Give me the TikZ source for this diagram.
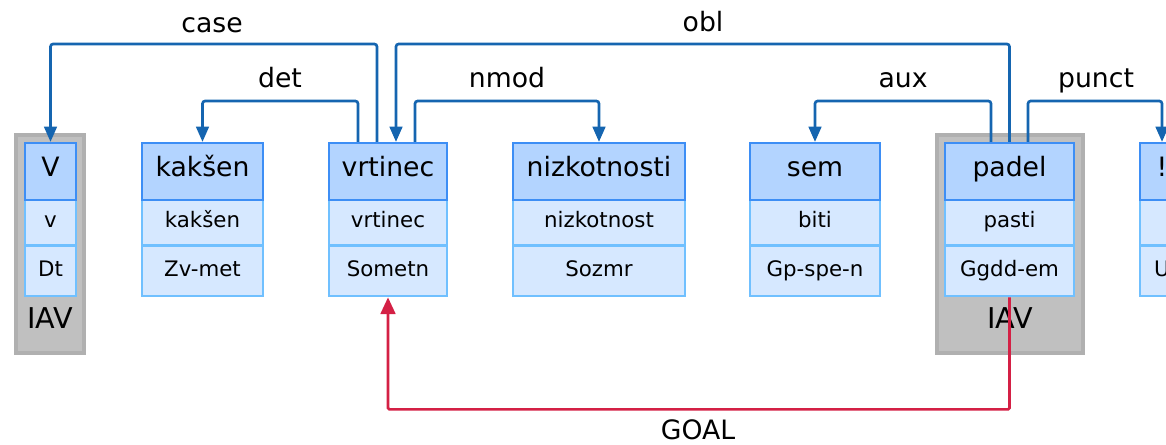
\documentclass[tikz,border=0pt]{standalone}
\usepackage{fontspec}
\setmainfont{DejaVu Sans}
\usetikzlibrary{arrows.meta,calc}

\definecolor{formfill}{HTML}{B3D4FF}
\definecolor{formline}{HTML}{3D8EF5}
\definecolor{cellfill}{HTML}{D6E8FF}
\definecolor{cellline}{HTML}{70C0FF}
\definecolor{iavfill}{HTML}{C0C0C0}
\definecolor{iavline}{HTML}{B0B0B0}
\definecolor{deplink}{HTML}{1565B0}
\definecolor{goallink}{HTML}{D42045}

% one token column: form (top), lemma, tag
% #1 name, #2 centre x, #3 width (px), #4 form, #5 lemma, #6 tag
\newcommand\wordbox[6]{%
  \node[lemmacell, minimum width=#3*0.75pt] (#1-l) at (#2,222.75) {#5};
  \node[tagcell,   minimum width=#3*0.75pt] (#1-t) at (#2,271)    {#6};
  \node[formcell,  minimum width=#3*0.75pt] (#1)   at (#2,171.5)  {#4};
}

\begin{document}
\begin{tikzpicture}[x=0.75pt,y=-0.75pt,
  cell/.style={draw, line width=1.6pt, inner sep=0pt, text height=0.75em, text depth=0pt},
  formcell/.style={cell, fill=formfill, draw=formline, minimum height=42.75pt,
    font=\fontsize{20}{23}\selectfont},
  lemmacell/.style={cell, fill=cellfill, draw=cellline, minimum height=34.1pt,
    font=\fontsize{16}{19}\selectfont},
  tagcell/.style={cell, fill=cellfill, draw=cellline, minimum height=37.9pt,
    font=\fontsize{16}{19}\selectfont},
  iavbox/.style={draw=iavline, fill=iavfill, line width=2.4pt, inner sep=0pt},
  iavlabel/.style={font=\fontsize{21.5}{25}\selectfont, text height=0.75em, text depth=0pt, inner sep=0pt},
  dep/.style={draw=deplink, line width=2pt, rounded corners=2pt,
    -{Triangle[length=11.5pt,width=9.5pt]}},
  goal/.style={draw=goallink, line width=2pt, rounded corners=1pt,
    -{Triangle[length=12.5pt,width=11pt]}},
  rel/.style={font=\fontsize{20}{23}\selectfont, anchor=base, inner sep=0pt}
]
\useasboundingbox (0,0) rectangle (1166,445);
\clip (0,0) rectangle (1166,445);

% multiword expression frames
\node[iavbox, minimum width=68*0.75pt,  minimum height=218*0.75pt] (iav1) at (50,244) {};
\node[iavbox, minimum width=146*0.75pt, minimum height=218*0.75pt] (iav2) at (1010,244) {};
\node[iavlabel] (iav1-t) at (50,323) {IAV};
\node[iavlabel] (iav2-t) at (1010,323) {IAV};

% tokens
\wordbox{v}{50.5}{51}{V}{v}{Dt}
\wordbox{kaksen}{202.5}{121}{kakšen}{kakšen}{Zv-met}
\wordbox{vrtinec}{388}{118}{vrtinec}{vrtinec}{Sometn}
\wordbox{nizk}{599}{172}{nizkotnosti}{nizkotnost}{Sozmr}
\wordbox{sem}{815}{130}{sem}{biti}{Gp-spe-n}
\wordbox{padel}{1009.5}{129}{padel}{pasti}{Ggdd-em}
\wordbox{excl}{1162}{44}{!}{}{U}

% attachment points on the heads
\coordinate (caseS)  at ($(vrtinec.north)+(-11,0)$);
\coordinate (detS)   at ($(vrtinec.north)+(-30,0)$);
\coordinate (oblT)   at ($(vrtinec.north)+(8,0)$);
\coordinate (nmodS)  at ($(vrtinec.north)+(27,0)$);
\coordinate (auxS)   at ($(padel.north)+(-18.5,0)$);
\coordinate (punctS) at ($(padel.north)+(18.5,0)$);

% dependency arcs
\draw[dep] (caseS) -- (caseS |- 0,44) -| (v.north);
\draw[dep] (padel.north) -- (padel.north |- 0,44) -| (oblT);
\draw[dep] (detS) -- (detS |- 0,101) -| (kaksen.north);
\draw[dep] (nmodS) -- (nmodS |- 0,101) -| (nizk.north);
\draw[dep] (auxS) -- (auxS |- 0,101) -| (sem.north);
\draw[dep] (punctS) -- (punctS |- 0,101) -| (excl.north);
\draw[goal] (padel-t.south) -- ++(0,112) -| (vrtinec-t.south);

% relation labels
\node[rel] (l-case)  at (212,33)  {case};
\node[rel] (l-obl)   at (703,32)  {obl};
\node[rel] (l-det)   at (280,88)  {det};
\node[rel] (l-nmod)  at (507,88)  {nmod};
\node[rel] (l-aux)   at (903,88)  {aux};
\node[rel] (l-punct) at (1096,88) {punct};
\node[rel] (l-goal)  at (698,439) {GOAL};
\end{tikzpicture}
\end{document}
